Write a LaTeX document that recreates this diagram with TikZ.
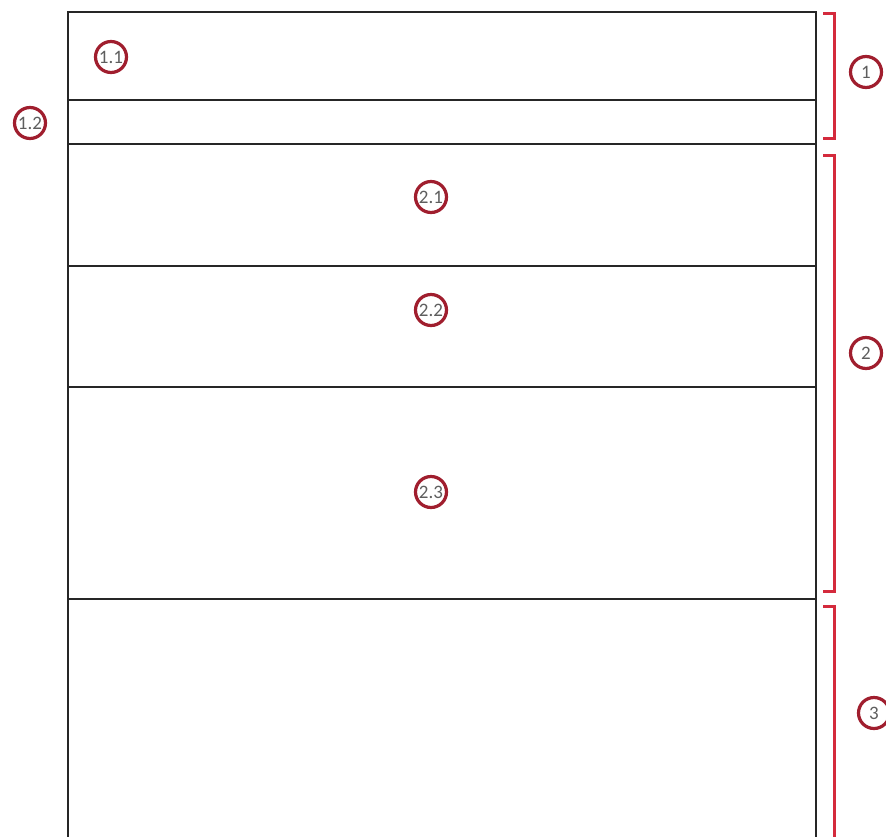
\documentclass[tikz,border=0pt]{standalone}
\usepackage{fontspec}
\setmainfont{Carlito}
\definecolor{circred}{HTML}{A01E2E}
\definecolor{brred}{HTML}{D42A3C}
\definecolor{numgray}{HTML}{5E5E5E}
\begin{document}
\begin{tikzpicture}[x=1pt,y=-1pt,
  box/.style={draw=black!85,line width=1.2pt},
  tag/.style={circle,draw=circred,line width=3.2pt,minimum size=31pt,inner sep=0pt,text=numgray,font=\fontsize{19}{19}\selectfont},
  brace/.style={draw=brred,line width=3pt}]
\useasboundingbox (0,0) rectangle (886,836);
\clip (0,0) rectangle (886,836);
\fill[white] (0,0) rectangle (886,836);
% main frame
\coordinate (tl) at (68,12);
\coordinate (tr) at (816,12);
\coordinate (bl) at (68,840);
\coordinate (br) at (816,840);
\draw[box] (bl) -- (tl) -- (tr) -- (br);
\foreach \yy in {100,144,266,387,599}{
  \draw[box] (68,\yy) -- (816,\yy);
}
% brackets
\draw[brace] (823,13) -- (834,13) -- (834,138) -- (823,138);
\draw[brace] (823,155) -- (834,155) -- (834,591) -- (823,591);
\draw[brace] (823,606) -- (834,606) -- (834,845);
% tags
\node[tag] (t11) at (111,57) {1.1};
\node[tag] (t12) at (30,123) {1.2};
\node[tag] (t1) at (866,72) {1};
\node[tag] (t21) at (431,197) {2.1};
\node[tag] (t22) at (431,310) {2.2};
\node[tag] (t23) at (431,492) {2.3};
\node[tag] (t2) at (866,353) {2};
\node[tag] (t3) at (874,713) {3};
\end{tikzpicture}
\end{document}
